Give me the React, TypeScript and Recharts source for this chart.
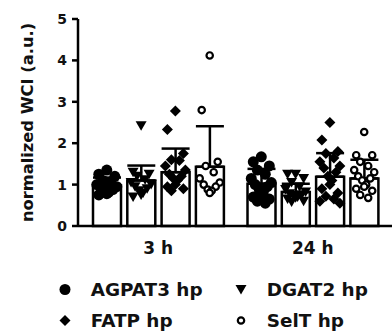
import { ComposedChart, Bar, ErrorBar, Scatter, XAxis, YAxis } from "recharts"

const groups = ["3 h", "24 h"]
const seriesNames = ["AGPAT3 hp", "DGAT2 hp", "FATP hp", "SelT hp"]
const yTicks = [0, 1, 2, 3, 4, 5]

// bar heights (mean) and upper error (SD), per group
const agpat3Mean = [0.98, 1.02]
const agpat3SD = [0.19, 0.36]
const dgat2Mean = [1.1, 0.82]
const dgat2SD = [0.36, 0.2]
const fatpMean = [1.3, 1.19]
const fatpSD = [0.57, 0.57]
const seltMean = [1.43, 1.15]
const seltSD = [0.98, 0.45]

// individual points
const agpat3Pts3h = [1.35, 1.25, 1.2, 1.1, 1.05, 1.0, 0.95, 0.92, 0.88, 0.85, 0.82, 0.78, 0.75]
const agpat3Pts24h = [1.67, 1.55, 1.45, 1.35, 1.25, 1.15, 1.05, 1.0, 0.95, 0.88, 0.82, 0.75, 0.7, 0.65, 0.6, 0.55]
const dgat2Pts3h = [2.42, 1.3, 1.25, 1.2, 1.12, 1.05, 1.0, 0.95, 0.9, 0.85, 0.8, 0.75, 0.7]
const dgat2Pts24h = [1.25, 1.25, 1.15, 1.05, 0.95, 0.88, 0.82, 0.78, 0.75, 0.72, 0.7, 0.68, 0.65, 0.6, 0.58]
const fatpPts3h = [2.78, 2.33, 1.75, 1.6, 1.58, 1.45, 1.35, 1.25, 1.2, 1.15, 1.1, 1.0, 0.95, 0.9, 0.85]
const fatpPts24h = [2.5, 2.08, 1.8, 1.75, 1.64, 1.55, 1.45, 1.4, 1.3, 1.2, 1.1, 1.0, 0.9, 0.8, 0.72, 0.65, 0.6, 0.55]
const seltPts3h = [4.12, 2.8, 1.55, 1.45, 1.3, 1.15, 1.05, 1.0, 0.95, 0.88, 0.85, 0.8]
const seltPts24h = [2.27, 1.71, 1.71, 1.55, 1.45, 1.35, 1.3, 1.2, 1.15, 1.1, 1.0, 0.95, 0.9, 0.85, 0.75, 0.68]

const chartData = groups.map((g, i) => ({
    group: g,
    agpat3: agpat3Mean[i],
    agpat3Err: [0, agpat3SD[i]],
    dgat2: dgat2Mean[i],
    dgat2Err: [0, dgat2SD[i]],
    fatp: fatpMean[i],
    fatpErr: [0, fatpSD[i]],
    selt: seltMean[i],
    seltErr: [0, seltSD[i]],
}))

// layout helpers (px -> group units)
const BAND = 154.5
const SLOT = 34.3 / BAND
const JITTER = [0, -8, 8, -4, 4, -10, 10, -6, 6, -2, 2]

const toPoints = (series: number, perGroup: number[][]) =>
    perGroup.flatMap((vals, gi) =>
        vals.map((v, k) => ({
            x: gi + (series - 1.5) * SLOT + JITTER[k % JITTER.length] / BAND,
            y: v,
        }))
    )

const FONT = "'DejaVu Sans', sans-serif"
const INK = "#111"

const Dot = (p: any) => <circle cx={p.cx} cy={p.cy} r={5.5} fill="#000" />
const Tri = (p: any) => (
    <path d={`M${p.cx - 5.5},${p.cy - 4.5} L${p.cx + 5.5},${p.cy - 4.5} L${p.cx},${p.cy + 5} Z`} fill="#000" />
)
const Dia = (p: any) => (
    <path d={`M${p.cx},${p.cy - 5.5} L${p.cx + 5.5},${p.cy} L${p.cx},${p.cy + 5.5} L${p.cx - 5.5},${p.cy} Z`} fill="#000" />
)
const Ring = (p: any) => <circle cx={p.cx} cy={p.cy} r={3.2} fill="#fff" stroke="#000" strokeWidth={2.2} />

const YTitle = (props: any) => {
    const vb = props.viewBox || { y: 19, height: 207 }
    const cx = 27
    const cy = vb.y + vb.height / 2
    return (
        <text
            x={cx}
            y={cy}
            transform={`rotate(-90 ${cx} ${cy})`}
            textAnchor="middle"
            dominantBaseline="central"
            fontFamily={FONT}
            fontWeight="bold"
            fontSize={16.3}
            fill={INK}
        >
            normalized WCI (a.u.)
        </text>
    )
}

const barProps = {
    fill: "#fff",
    stroke: "#000",
    strokeWidth: 2.5,
    barSize: 28,
    isAnimationActive: false,
    xAxisId: "cat",
}

const errProps = {
    width: 14,
    strokeWidth: 2.5,
    stroke: "#000",
    direction: "y" as const,
    isAnimationActive: false,
}

const legendMarks = [Dot, Tri, Dia, Ring]

export default function App() {
    return (
        <div style={{ position: "absolute", left: 0, top: 0, width: 392, height: 334, background: "#fff" }}>
            <ComposedChart
                width={392}
                height={270}
                data={chartData}
                margin={{ top: 19, right: 0, bottom: 4, left: 0 }}
                barGap={6.3}
            >
                <XAxis
                    xAxisId="cat"
                    dataKey="group"
                    padding={{ left: 3, right: 2 }}
                    tickLine={false}
                    tickSize={6}
                    tickMargin={9.5}
                    height={40}
                    axisLine={{ stroke: "#000", strokeWidth: 2.5 }}
                    tick={{ fontFamily: FONT, fontWeight: "bold", fontSize: 17, fill: INK }}
                />
                <XAxis
                    xAxisId="num"
                    type="number"
                    dataKey="x"
                    domain={[-0.5, 1.5]}
                    padding={{ left: 3, right: 2 }}
                    hide
                />
                <YAxis
                    width={78}
                    domain={[0, 5]}
                    ticks={yTicks}
                    interval={0}
                    tickSize={6}
                    tickMargin={5}
                    axisLine={{ stroke: "#000", strokeWidth: 2.5 }}
                    tickLine={{ stroke: "#000", strokeWidth: 2.5 }}
                    tick={{ fontFamily: FONT, fontWeight: "bold", fontSize: 14, fill: INK }}
                    label={<YTitle />}
                />
                <Bar dataKey="agpat3" {...barProps}>
                    <ErrorBar dataKey="agpat3Err" {...errProps} />
                </Bar>
                <Bar dataKey="dgat2" {...barProps}>
                    <ErrorBar dataKey="dgat2Err" {...errProps} />
                </Bar>
                <Bar dataKey="fatp" {...barProps}>
                    <ErrorBar dataKey="fatpErr" {...errProps} />
                </Bar>
                <Bar dataKey="selt" {...barProps}>
                    <ErrorBar dataKey="seltErr" {...errProps} />
                </Bar>
                <Scatter xAxisId="num" dataKey="y" data={toPoints(0, [agpat3Pts3h, agpat3Pts24h])} shape={Dot} isAnimationActive={false} />
                <Scatter xAxisId="num" dataKey="y" data={toPoints(1, [dgat2Pts3h, dgat2Pts24h])} shape={Tri} isAnimationActive={false} />
                <Scatter xAxisId="num" dataKey="y" data={toPoints(2, [fatpPts3h, fatpPts24h])} shape={Dia} isAnimationActive={false} />
                <Scatter xAxisId="num" dataKey="y" data={toPoints(3, [seltPts3h, seltPts24h])} shape={Ring} isAnimationActive={false} />
            </ComposedChart>
            <svg width={392} height={334} style={{ position: "absolute", left: 0, top: 0, pointerEvents: "none" }}>
                {seriesNames.map((name, i) => {
                    const Mark = legendMarks[i]
                    const col = i % 2
                    const row = Math.floor(i / 2)
                    const mx = col === 0 ? 65 : 241
                    const tx = col === 0 ? 90.7 : 266.7
                    const base = row === 0 ? 296 : 327
                    return (
                        <g key={name}>
                            <Mark cx={mx} cy={base - 6.5} />
                            <text x={tx} y={base} fontFamily={FONT} fontWeight="bold" fontSize={18.4} fill={INK}>
                                {name}
                            </text>
                        </g>
                    )
                })}
            </svg>
        </div>
    )
}
